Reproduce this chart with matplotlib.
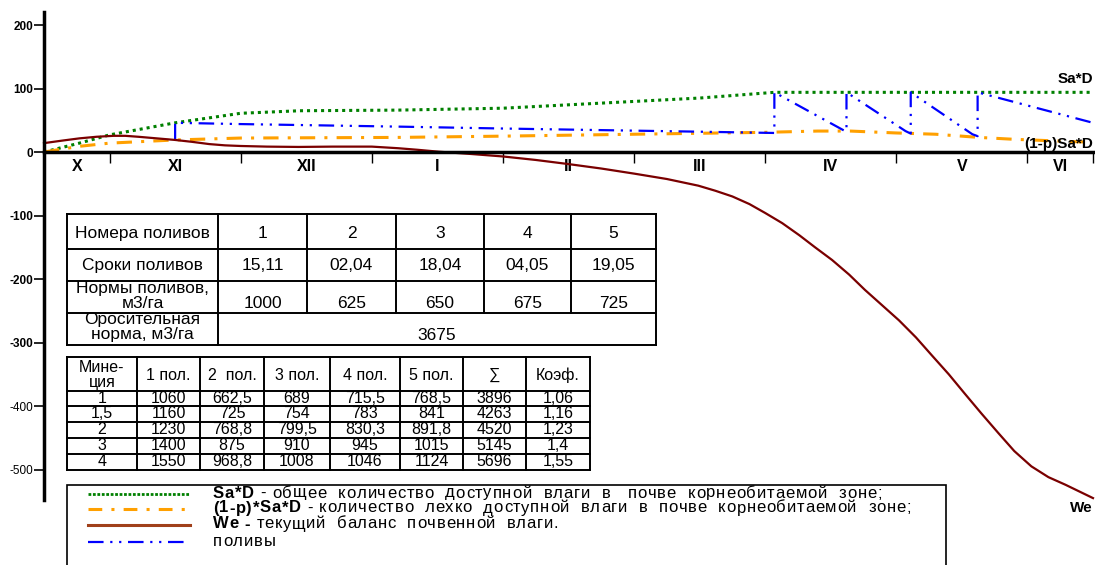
import matplotlib
matplotlib.use('Agg')
import matplotlib.pyplot as plt
from matplotlib.lines import Line2D
from matplotlib.patches import Rectangle
from matplotlib.font_manager import FontProperties

plt.rcParams['font.family'] = ['Liberation Sans', 'DejaVu Sans']

# months on the x axis (x = months counted from 1 Oct)
months = ['X', 'XI', 'XII', 'I', 'II', 'III', 'IV', 'V', 'VI']
month_mid = [0.75, 1.5, 2.5, 3.5, 4.5, 5.5, 6.5, 7.5, 8.25]
month_edges = [1, 2, 3, 4, 5, 6, 7, 8, 8.5]
y_ticks = [200, 100, 0, -100, -200, -300, -400, -500]

# Sa*D - total available water
sad_x = [0.5, 0.77, 1.0, 1.5, 2.0, 2.45, 3.2, 4.0, 4.75, 5.5, 6.07, 7.0, 8.0, 8.5]
sad_y = [0, 14, 27, 46, 61, 65, 66, 69, 77, 85, 94, 94, 94, 94]

# (1-p)Sa*D - readily available water
ras_x = [0.5, 0.77, 1.0, 1.5, 2.0, 3.2, 4.0, 5.0, 6.0, 6.4, 6.65, 7.0, 7.3, 7.63, 7.9, 8.4, 8.5]
ras_y = [0, 9, 14, 19, 22, 23, 25, 28, 31, 33, 33, 30, 28, 23, 20, 16, 16]

# We - current soil water balance
we_x = [0.5, 0.64, 0.77, 0.9, 1.03, 1.12, 1.22, 1.36, 1.5, 1.63, 1.76, 1.88, 2.0, 2.2,
        2.44, 2.7, 3.0, 3.2, 3.35, 3.51, 3.75, 4.0, 4.25, 4.5, 4.75, 5.0, 5.25,
        5.49, 5.62, 5.75, 5.88, 6.0, 6.13, 6.26, 6.38, 6.51, 6.64, 6.76, 6.89, 7.02,
        7.15, 7.27, 7.4, 7.52, 7.65, 7.78, 7.9, 8.03, 8.16, 8.29, 8.4, 8.5]
we_y = [14, 18, 21.5, 24, 25.5, 25.5, 24, 21.5, 19, 16, 12.5, 10.5, 9.5, 8.5,
        8, 8.5, 8.5, 6, 3.5, 0.5, -3, -7, -12.5, -19, -26, -34, -42.5,
        -53, -61, -70, -82, -96, -112, -131, -150, -170, -193, -217, -241, -265,
        -292, -320, -350, -380, -412, -443, -471, -495, -512, -524, -535, -545]

# irrigations
pol_x = [1.50, 1.50, 2.00, 3.20, 4.00, 5.50, 6.07, 6.07, 6.60, 6.62, 6.62,
         7.07, 7.11, 7.11, 7.58, 7.62, 7.62, 8.50]
pol_y = [20, 46, 44, 40, 37, 32, 30, 94, 34, 33, 94, 33, 29, 94, 28, 25, 94, 46]

# table 1
t1_label = ['Номера поливов', 'Сроки поливов', 'Нормы поливов,\nм3/га', 'Оросительная\nнорма, м3/га']
pol_nums = ['1', '2', '3', '4', '5']
pol_dates = ['15,11', '02,04', '18,04', '04,05', '19,05']
pol_norms = ['1000', '625', '650', '675', '725']
pol_total = '3675'

# table 2
t2_head = ['Мине-\nция', '1 пол.', '2  пол.', '3 пол.', '4 пол.', '5 пол.', '∑', 'Коэф.']
mineral = ['1', '1,5', '2', '3', '4']
pol1 = ['1060', '1160', '1230', '1400', '1550']
pol2 = ['662,5', '725', '768,8', '875', '968,8']
pol3 = ['689', '754', '799,5', '910', '1008']
pol4 = ['715,5', '783', '830,3', '945', '1046']
pol5 = ['768,5', '841', '891,8', '1015', '1124']
sums = ['3896', '4263', '4520', '5145', '5696']
coef = ['1,06', '1,16', '1,23', '1,4', '1,55']

W, H = 1095, 565
fig = plt.figure(figsize=(W / 100, H / 100), dpi=100)
ax = fig.add_axes([44 / W, 65 / H, (1093 - 44) / W, 488 / H])
ax.set_xlim(0.5, 8.5)
ax.set_ylim(-548, 220.5)

c_green = '#008000'
c_orange = '#FFA000'
c_brown = '#7A0000'
c_blue = '#0000FF'

ax.plot(sad_x, sad_y, color=c_green, lw=2.2, ls=(0, (1, 1.3)))
ax.plot(ras_x, ras_y, color=c_orange, lw=2.2, ls=(0, (5, 3, 1, 3)))
ax.plot(pol_x, pol_y, color=c_blue, lw=1.6, ls=(0, (7, 3, 1, 3, 1, 3)))
ax.plot(we_x, we_y, color=c_brown, lw=1.6, clip_on=False)

for s in ['top', 'right']:
    ax.spines[s].set_visible(False)
ax.spines['left'].set_linewidth(2.5)
ax.spines['bottom'].set_position(('data', 0))
ax.spines['bottom'].set_linewidth(2.5)

ax.set_xticks(month_edges)
ax.set_xticklabels([])
ax.set_xticks(month_mid, minor=True)
ax.set_xticklabels(months, minor=True, fontsize=11.5, fontweight='bold')
ax.tick_params(axis='x', which='major', length=8, width=1.0, direction='out')
ax.tick_params(axis='x', which='minor', length=0, pad=5)

ax.set_yticks(y_ticks)
ax.set_yticklabels([str(v) for v in y_ticks], fontsize=8.5)
ax.tick_params(axis='y', length=7, width=1.2, pad=1)
for lab, v in zip(ax.get_yticklabels(), y_ticks):
    lab.set_fontweight('bold' if v > -400 else 'normal')


def fx(x):
    return x / W


def fy(y):
    return 1 - y / H


def hline(x0, x1, y, lw=1.4):
    fig.add_artist(Line2D([fx(x0), fx(x1)], [fy(y), fy(y)], color='k', lw=lw,
                          transform=fig.transFigure))


def vline(x, y0, y1, lw=1.4):
    fig.add_artist(Line2D([fx(x), fx(x)], [fy(y0), fy(y1)], color='k', lw=lw,
                          transform=fig.transFigure))


def txt(x, y, s, size, ha='center', **kw):
    return fig.text(fx(x), fy(y), s, ha=ha, va='center', fontsize=size,
                    linespacing=0.95, **kw)


# ---- table 1
c1 = [67, 218, 307, 396, 484, 571, 656]
r1 = [214, 249, 281, 313, 345]
for y in r1:
    hline(c1[0], c1[-1], y)
for i, x in enumerate(c1):
    bottom = r1[-1] if i in (0, 1, len(c1) - 1) else r1[-2]
    vline(x, r1[0], bottom)
fs1 = 12.5
txt((c1[0] + c1[1]) / 2, 233, t1_label[0], fs1)
txt((c1[0] + c1[1]) / 2, 265, t1_label[1], fs1)
txt((c1[0] + c1[1]) / 2, 296, t1_label[2], fs1)
txt((c1[0] + c1[1]) / 2, 327, t1_label[3], fs1)
for j in range(5):
    xc = (c1[j + 1] + c1[j + 2]) / 2
    txt(xc, 233, pol_nums[j], fs1)
    txt(xc, 265, pol_dates[j], fs1)
    txt(xc, 304, pol_norms[j], fs1)
txt((c1[1] + c1[-1]) / 2, 335, pol_total, fs1)

# ---- table 2
c2 = [67, 137, 200, 264, 330, 400, 463, 526, 590]
r2 = [357, 391, 406, 422, 438, 454, 470]
for y in r2:
    hline(c2[0], c2[-1], y)
for x in c2:
    vline(x, r2[0], r2[-1])
fs2 = 11.5
for j, h in enumerate(t2_head):
    txt((c2[j] + c2[j + 1]) / 2, 375, h, fs2)
cols = [mineral, pol1, pol2, pol3, pol4, pol5, sums, coef]
for j, col in enumerate(cols):
    for i, v in enumerate(col):
        txt((c2[j] + c2[j + 1]) / 2, (r2[i + 1] + r2[i + 2]) / 2, v, fs2)

# ---- legend box
fig.add_artist(Rectangle((fx(67), fy(575)), fx(946 - 67), 90 / H, fill=False,
                         ec='k', lw=1.2, transform=fig.transFigure))
leg_styles = [(c_green, 2.0, (0, (1, 0.6))),
              (c_orange, 2.2, (0, (4.5, 3, 1, 3))),
              ('#A0401A', 2.2, '-'),
              (c_blue, 1.6, (0, (7, 3, 1, 3, 1, 3)))]
leg_y = [494, 509, 525, 542]
leg_bold = ['Sa*D', '(1-p)*Sa*D', 'We -', '']
leg_rest = [' - общее  количество  доступной  влаги  в   почве  корнеобитаемой  зоне;',
            ' - количество  лехко  доступной  влаги  в  почве  корнеобитаемой  зоне;',
            ' текущий  баланс  почвенной  влаги.',
            'поливы']
leg_end = [882, 911, 558, 276]
fs_leg = 12
fig.canvas.draw()
renderer = fig.canvas.get_renderer()


def char_w(c, weight):
    prop = FontProperties(family=['Liberation Sans', 'DejaVu Sans'], size=fs_leg, weight=weight)
    w2 = renderer.get_text_width_height_descent('HH', prop, ismath=False)[0]
    w3 = renderer.get_text_width_height_descent('H' + c + 'H', prop, ismath=False)[0]
    return w3 - w2


for (col, lw, ls), y, b, r, xe in zip(leg_styles, leg_y, leg_bold, leg_rest, leg_end):
    fig.add_artist(Line2D([fx(88), fx(190)], [fy(y), fy(y)], color=col, lw=lw, ls=ls,
                          transform=fig.transFigure))
    chars = [(c, 'bold') for c in b] + [(c, 'normal') for c in r]
    widths = [char_w(c, wt) for c, wt in chars]
    track = max(0, (xe - 213 - sum(widths)) / (len(chars) - 1))
    x = 213
    for (c, wt), wd in zip(chars, widths):
        if c != ' ':
            txt(x, y - 1, c, fs_leg, ha='left', fontweight=wt)
        x += wd + track

# ---- curve labels
txt(1093, 79, 'Sa*D', 11, ha='right', fontweight='bold')
txt(1093, 144, '(1-p)Sa*D', 11, ha='right', fontweight='bold')
txt(1093, 508, 'We', 11, ha='right', fontweight='bold')

fig.savefig('out.png', dpi=100)
